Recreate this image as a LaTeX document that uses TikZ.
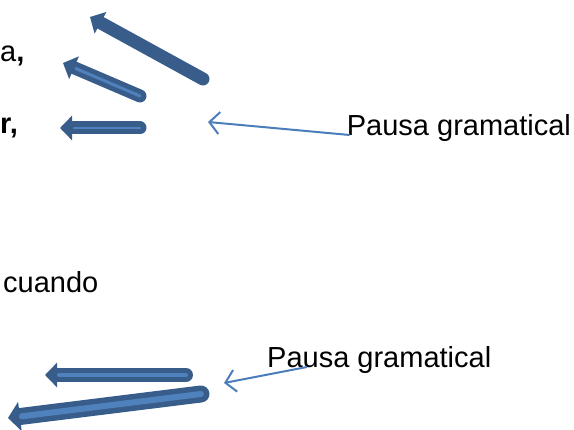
\documentclass[tikz,border=0pt]{standalone}
\usepackage{fontspec}
\setmainfont{Liberation Sans}
\usetikzlibrary{arrows.meta,positioning}
\definecolor{blockdark}{HTML}{385D8A}
\definecolor{blocklight}{HTML}{4F81BD}
\definecolor{thinblue}{HTML}{4A7EBB}
\begin{document}
\begin{tikzpicture}[x=1pt,y=-1pt]
    \tikzset{txt/.style={anchor=base west,inner sep=0pt,font=\fontsize{29}{35}\selectfont},
      blockout/.style 2 args={draw=blockdark,line width=#1,line cap=round,line join=round,
        -{Triangle[length=12pt,width=#2]}},
      blockin/.style={draw=blocklight,line width=#1,line cap=round,shorten >=14pt},
      pausa/.style={draw=thinblue,line width=2pt,-{Straight Barb[length=10pt,width=22pt]}}}
    \useasboundingbox (0,0) rectangle (574,430);
    \node[txt] (wa) at (0,62) {a\textbf{,}};
    \node[txt] (wr) at (0,134) {\textbf{r,}};
    \node[txt] (cuando) at (3,293) {cuando};
    \node[txt] (pausa1) at (346.7,136) {Pausa gramatical};
    \node[txt] (pausa2) at (267,368) {Pausa gramatical};

    \coordinate (a1s) at (203,79);   \coordinate (a1e) at (90,17);
    \coordinate (a2s) at (140,96);   \coordinate (a2e) at (63,63);
    \coordinate (a3s) at (140,128);  \coordinate (a3e) at (60,128);
    \coordinate (a4s) at (186,375);  \coordinate (a4e) at (45,375);
    \coordinate (a5s) at (201,394);  \coordinate (a5e) at (8,418);
    \coordinate (tip1) at (208,122);
    \coordinate (tip2) at (224,383);

    \path[blockout={13pt}{24pt}] (a1s) -- (a1e);
    \path[blockout={13pt}{24pt}] (a2s) -- (a2e);
    \path[blockin=3pt] (a2s) -- (a2e);
    \path[blockout={13pt}{24pt}] (a3s) -- (a3e);
    \path[blockin=2.5pt] (a3s) -- (a3e);
    \path[blockout={14pt}{24pt}] (a4s) -- (a4e);
    \path[blockin=4pt] (a4s) -- (a4e);
    \path[blockout={17pt}{29pt}] (a5s) -- (a5e);
    \path[blockin=6pt] (a5s) -- (a5e);

    \draw[pausa] ([xshift=3pt,yshift=1pt]pausa1.base west) -- (tip1);
    \draw[pausa] ([xshift=40pt,yshift=1pt]pausa2.base west) -- (tip2);
\end{tikzpicture}
\end{document}
